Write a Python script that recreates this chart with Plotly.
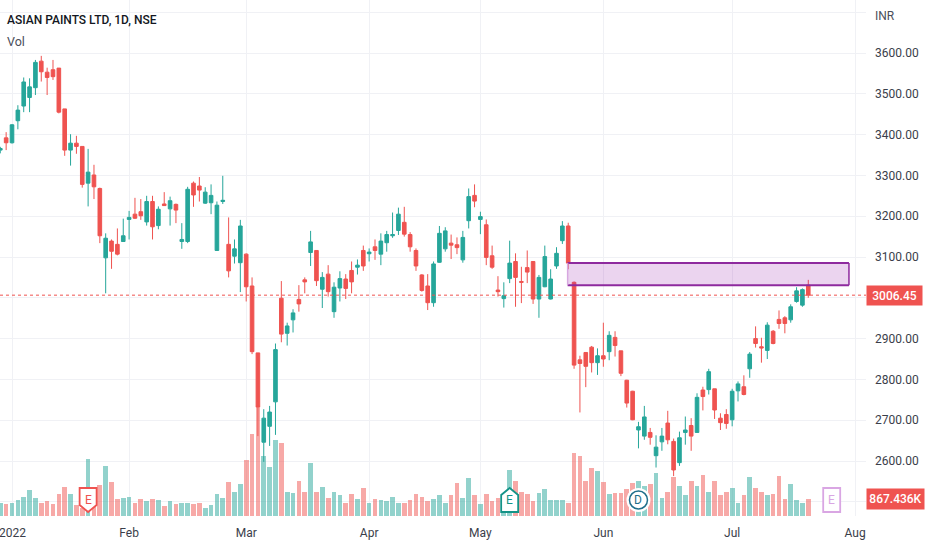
import plotly.graph_objects as go

COLOR_UP = "#26a69a"
COLOR_DOWN = "#ef5350"
COLOR_GRID = "#f0f1f5"
COLOR_TEXT = "#131722"
FONT = "Roboto"

opens = [3362, 3392, 3380, 3434, 3470, 3491, 3515, 3580, 3553, 3559, 3563, 3463, 3362, 3379, 3371, 3281, 3301, 3268, 3098, 3139,
         3131, 3138, 3192, 3205, 3211, 3186, 3236, 3177, 3230, 3218, 3229, 3138, 3138, 3281, 3274, 3232, 3233, 3116, 3236, 3131,
         3102, 3086, 3107, 3029, 2865, 2646, 2685, 2745, 2999, 2913, 2946, 2996, 3044, 3111, 3116, 3021, 3058, 2966, 3024, 3046,
         3067, 3075, 3116, 3108, 3125, 3107, 3135, 3152, 3165, 3185, 3155, 3116, 3056, 3029, 2988, 3087, 3120, 3134, 3130, 3093,
         3189, 3251, 3192, 3179, 3103, 3019, 2998, 3047, 3089, 3040, 3074, 3089, 2997, 3027, 2997, 3078, 3140, 3176, 3038, 2848,
         2866, 2879, 2841, 2858, 2868, 2903, 2870, 2798, 2771, 2676, 2661, 2670, 2613, 2647, 2693, 2648, 2596, 2670, 2687, 2670,
         2774, 2775, 2777, 2705, 2714, 2701, 2772, 2782, 2826, 2900, 2880, 2871, 2918, 2947, 2951, 2946, 2991, 2982, 3031]
highs = [3370, 3406, 3426, 3472, 3540, 3538, 3583, 3593, 3564, 3583, 3563, 3463, 3401, 3397, 3371, 3365, 3326, 3270, 3158, 3143,
         3170, 3194, 3213, 3245, 3242, 3250, 3250, 3224, 3259, 3248, 3231, 3183, 3272, 3285, 3296, 3271, 3278, 3236, 3299, 3197,
         3143, 3191, 3109, 3050, 2865, 2727, 2735, 2888, 3041, 2939, 2972, 3031, 3050, 3164, 3116, 3063, 3080, 3038, 3065, 3058,
         3089, 3094, 3128, 3121, 3143, 3158, 3164, 3209, 3221, 3223, 3161, 3121, 3058, 3058, 3089, 3176, 3173, 3155, 3148, 3164,
         3268, 3278, 3211, 3192, 3128, 3053, 3038, 3140, 3109, 3076, 3116, 3089, 3056, 3128, 3070, 3124, 3188, 3184, 3040, 2858,
         2866, 2882, 2876, 2939, 2918, 2918, 2870, 2799, 2772, 2696, 2735, 2681, 2663, 2681, 2723, 2655, 2672, 2709, 2705, 2766,
         2782, 2826, 2777, 2717, 2727, 2777, 2795, 2810, 2867, 2930, 2902, 2940, 2921, 2969, 2955, 2984, 3026, 3023, 3044]
lows = [3354, 3362, 3378, 3413, 3455, 3455, 3497, 3530, 3497, 3534, 3452, 3348, 3324, 3353, 3270, 3224, 3242, 3134, 3011, 3071,
        3104, 3138, 3143, 3193, 3191, 3177, 3143, 3168, 3225, 3177, 3183, 3120, 3134, 3223, 3236, 3230, 3205, 3116, 3230, 3050,
        3084, 3014, 2991, 2862, 2661, 2598, 2637, 2664, 2891, 2883, 2915, 2966, 3011, 3078, 3029, 2975, 3003, 2951, 2991, 2997,
        3011, 3057, 3066, 3089, 3093, 3080, 3113, 3147, 3154, 3150, 3113, 3066, 3015, 2970, 2978, 3086, 3113, 3095, 3107, 3086,
        3170, 3222, 3156, 3080, 3071, 3003, 2976, 3036, 2978, 2987, 3036, 2985, 2951, 3026, 2996, 3071, 3132, 3070, 2826, 2719,
        2781, 2817, 2811, 2831, 2847, 2856, 2808, 2731, 2700, 2631, 2652, 2640, 2584, 2625, 2641, 2563, 2588, 2640, 2625, 2670,
        2724, 2763, 2703, 2676, 2679, 2685, 2746, 2761, 2804, 2878, 2841, 2850, 2886, 2924, 2913, 2939, 2988, 2978, 3000]
closes = [3366, 3380, 3424, 3460, 3529, 3517, 3577, 3554, 3540, 3542, 3455, 3362, 3379, 3371, 3278, 3308, 3272, 3152, 3146, 3114,
          3107, 3152, 3197, 3195, 3201, 3236, 3174, 3217, 3226, 3238, 3215, 3143, 3266, 3252, 3264, 3259, 3251, 3227, 3239, 3066,
          3120, 3176, 3027, 2868, 2732, 2705, 2720, 2873, 2911, 2931, 2963, 2985, 3039, 3137, 3042, 3050, 3015, 3026, 3047, 3023,
          3039, 3080, 3078, 3112, 3116, 3139, 3155, 3155, 3205, 3156, 3125, 3078, 3018, 2988, 3083, 3158, 3164, 3129, 3123, 3148,
          3248, 3237, 3199, 3099, 3075, 3015, 3005, 3085, 3050, 3038, 3063, 2997, 3050, 3101, 3046, 3109, 3176, 3085, 2835, 2839,
          2832, 2841, 2858, 2850, 2908, 2883, 2815, 2742, 2701, 2684, 2708, 2658, 2634, 2661, 2652, 2578, 2657, 2676, 2661, 2756,
          2758, 2819, 2725, 2694, 2692, 2771, 2789, 2763, 2862, 2888, 2877, 2933, 2888, 2937, 2937, 2978, 3017, 3020, 3006.45]
volumes = [680, 629, 680, 799, 986, 1309, 935, 680, 748, 629, 1122, 1496, 1122, 561, 425, 2924, 935, 1564, 2550, 1751,
           867, 935, 986, 680, 867, 748, 867, 799, 493, 748, 629, 680, 680, 629, 680, 425, 561, 1122, 935, 1751,
           1241, 1615, 2873, 4165, 5525, 3043, 2482, 3859, 3740, 1241, 1173, 1802, 1241, 2720, 1241, 1496, 935, 1241, 1054, 680,
           1122, 867, 1428, 680, 867, 799, 748, 986, 680, 680, 799, 1122, 986, 748, 867, 1054, 680, 1054, 1683, 935,
           1921, 1054, 629, 1122, 748, 935, 374, 2363, 1802, 1241, 1122, 748, 1173, 1360, 799, 799, 799, 680, 3230, 3043,
           1802, 2431, 2295, 1751, 1122, 1173, 1173, 1360, 1683, 1802, 1547, 1615, 2176, 935, 1241, 1989, 1547, 1054, 1802, 1547,
           2108, 1241, 1802, 1054, 1241, 1428, 680, 1054, 1989, 1428, 1241, 1054, 1122, 2057, 867, 1615, 799, 680, 867.436]
bars = list(range(len(closes)))

tick_bars = [2, 22, 42, 63, 82, 103, 125, 146]
tick_labels = ["", "Feb", "Mar", "Apr", "May", "Jun", "Jul", "Aug"]
year_label = "2022"
price_ticks = [2500, 2600, 2700, 2800, 2900, 3000, 3100, 3200, 3300, 3400, 3500, 3600, 3700]
price_labels = ["", "2600.00", "2700.00", "2800.00", "2900.00", "", "3100.00", "3200.00",
                "3300.00", "3400.00", "3500.00", "3600.00", ""]

zone_bars = [96.9, 144.95]
zone_prices = [3031, 3085]
last_price = 3006.45
last_volume = 867.436

WIDTH, HEIGHT = 932, 550
PLOT_W, PLOT_H = 866, 516


def with_alpha(hex_color, alpha):
    r, g, b = (int(hex_color[i:i + 2], 16) for i in (1, 3, 5))
    return f"rgba({r},{g},{b},{alpha})"


vol_colors = [
    with_alpha(COLOR_UP if c >= o else COLOR_DOWN, 0.5) for o, c in zip(opens, closes)
]

fig = go.Figure()
fig.add_trace(
    go.Bar(
        x=bars,
        y=volumes,
        width=0.8,
        marker=dict(color=vol_colors, line=dict(width=0)),
        yaxis="y",
        hoverinfo="skip",
        showlegend=False,
    )
)
fig.add_trace(
    go.Candlestick(
        x=bars,
        open=opens,
        high=highs,
        low=lows,
        close=closes,
        yaxis="y2",
        increasing=dict(line=dict(color=COLOR_UP, width=1), fillcolor=COLOR_UP),
        decreasing=dict(line=dict(color=COLOR_DOWN, width=1), fillcolor=COLOR_DOWN),
        whiskerwidth=0,
        hoverinfo="skip",
        showlegend=False,
    )
)

# price tag line and the supply zone
fig.add_shape(
    type="line", xref="paper", x0=0, x1=1, yref="y2", y0=last_price, y1=last_price,
    line=dict(color=COLOR_DOWN, width=1, dash="dot"),
)
fig.add_shape(
    type="rect", xref="x", x0=zone_bars[0], x1=zone_bars[1], yref="y2", y0=zone_prices[0], y1=zone_prices[1],
    fillcolor="rgba(156,39,176,0.2)", line=dict(width=0),
)
for level in zone_prices:
    fig.add_shape(
        type="line", xref="x", x0=zone_bars[0], x1=zone_bars[1], yref="y2", y0=level, y1=level,
        line=dict(color="#8e2a9e", width=2),
    )
fig.add_shape(
    type="line", xref="x", x0=zone_bars[1], x1=zone_bars[1], yref="y2", y0=zone_prices[0], y1=zone_prices[1],
    line=dict(color="#8e2a9e", width=1.5),
)
fig.add_shape(
    type="line", xref="x", x0=zone_bars[0], x1=zone_bars[0], yref="y2", y0=zone_prices[0], y1=zone_prices[1],
    line=dict(color="#d7a8e0", width=1.5),
)


def add_event(bar, path, line_color, letter, circle=False):
    base = dict(
        xref="x", xsizemode="pixel", xanchor=bar,
        yref="paper", ysizemode="pixel", yanchor=16 / PLOT_H,
        fillcolor="white",
    )
    if circle:
        fig.add_shape(type="circle", x0=-12, x1=12, y0=-12, y1=12, line=dict(width=0), **base)
        fig.add_shape(type="circle", x0=-9, x1=9, y0=-9, y1=9, line=dict(color=line_color, width=1.5), **base)
    else:
        fig.add_shape(type="path", path=path, line=dict(color=line_color, width=1.8), **base)
    fig.add_annotation(
        x=bar, xref="x", y=16 / PLOT_H, yref="paper", yanchor="middle", text=letter, showarrow=False,
        font=dict(family=FONT, size=12, color=line_color),
    )


add_event(15, "M -8.5 12 L 8.5 12 L 8.5 -5 L 0 -12 L -8.5 -5 Z", COLOR_DOWN, "E")
add_event(87, "M -8.5 -12 L 8.5 -12 L 8.5 5 L 0 12 L -8.5 5 Z", "#149387", "E")
add_event(109, None, "#1f6f8b", "D", circle=True)
add_event(142, "M -8.5 -12 L 8.5 -12 L 8.5 12 L -8.5 12 Z", "#d9a6e3", "E")

fig.add_annotation(
    x=5 / PLOT_W, xref="paper", xanchor="left", y=1 - 20 / PLOT_H, yref="paper", yanchor="middle",
    text="ASIAN PAINTS LTD, 1D, NSE", showarrow=False,
    font=dict(family=FONT, size=12, color=COLOR_TEXT, weight=500),
)
fig.add_annotation(
    x=5 / PLOT_W, xref="paper", xanchor="left", y=1 - 41 / PLOT_H, yref="paper", yanchor="middle",
    text="Vol", showarrow=False, font=dict(family=FONT, size=12.5, color="#4a4e5a"),
)
fig.add_annotation(
    x=873 / PLOT_W, xref="paper", xanchor="left", y=1 - 16 / PLOT_H, yref="paper", yanchor="middle",
    text="INR", showarrow=False, font=dict(family=FONT, size=12, color="#4a4e5a"),
)
fig.add_annotation(
    x=1, xref="paper", xanchor="left", y=last_price, yref="y2", yanchor="middle",
    text=f"{last_price:.2f}", showarrow=False, width=55, height=19, bgcolor=COLOR_DOWN, borderpad=0,
    font=dict(family=FONT, size=12, color="white", weight=500),
)
fig.add_annotation(
    x=1, xref="paper", xanchor="left", y=last_volume, yref="y", yanchor="middle",
    text=f"{last_volume:.3f}K", showarrow=False, width=57, height=20, bgcolor=COLOR_DOWN, borderpad=0,
    font=dict(family=FONT, size=12, color="white", weight=500),
)
fig.add_annotation(
    x=tick_bars[0], xref="x", y=-17 / PLOT_H, yref="paper", yanchor="middle",
    text=year_label, showarrow=False, font=dict(family=FONT, size=12, color="#3a3e4a"),
)

fig.update_layout(
    width=WIDTH,
    height=HEIGHT,
    margin=dict(l=0, r=WIDTH - PLOT_W, t=0, b=HEIGHT - PLOT_H, pad=0),
    paper_bgcolor="white",
    plot_bgcolor="white",
    font=dict(family=FONT, size=12, color=COLOR_TEXT),
    bargap=0,
    boxgap=0.12,
    xaxis=dict(
        range=[-0.05, 147.86],
        tickvals=tick_bars,
        ticktext=tick_labels,
        showgrid=True,
        gridcolor=COLOR_GRID,
        gridwidth=1,
        zeroline=False,
        showline=False,
        ticks="",
        ticklabelstandoff=8,
        rangeslider=dict(visible=False),
        tickfont=dict(family=FONT, size=12, color="#3a3e4a"),
    ),
    yaxis=dict(range=[0, 26316], visible=False, showgrid=False, fixedrange=True),
    yaxis2=dict(
        range=[2465.2, 3729.9],
        overlaying="y",
        side="right",
        tickvals=price_ticks,
        ticktext=price_labels,
        showgrid=True,
        gridcolor=COLOR_GRID,
        gridwidth=1,
        zeroline=False,
        showline=False,
        ticks="",
        ticklabelstandoff=8,
        tickfont=dict(family=FONT, size=12, color="#3a3e4a"),
    ),
    showlegend=False,
)

fig.write_html(
    "out.html",
    config=dict(displayModeBar=False),
    post_script="document.body.style.margin='0';",
)
